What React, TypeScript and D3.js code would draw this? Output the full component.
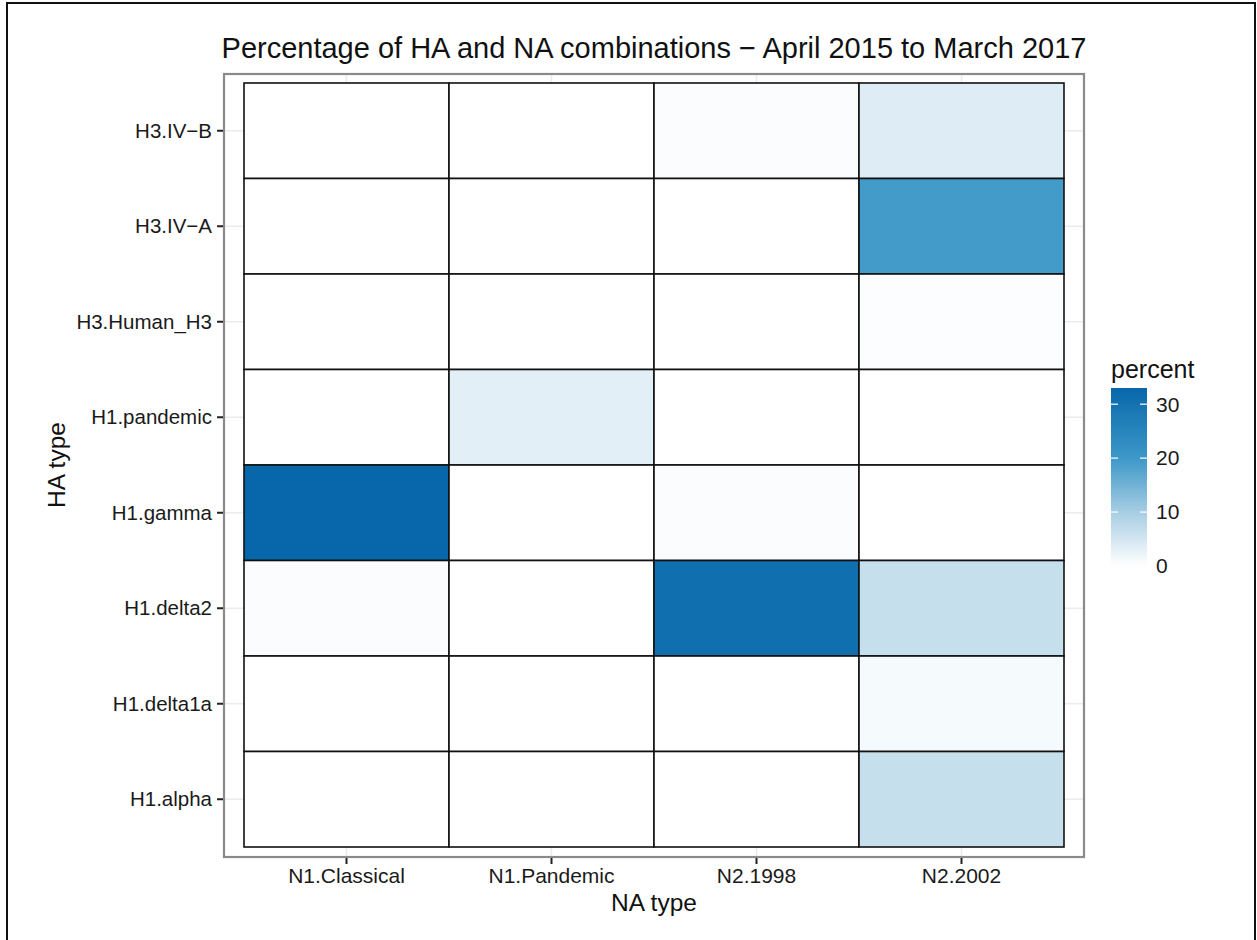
import React from "react";
import * as d3 from "d3";

// HA types, top row first
const haTypes = [
  "H3.IV−B",
  "H3.IV−A",
  "H3.Human_H3",
  "H1.pandemic",
  "H1.gamma",
  "H1.delta2",
  "H1.delta1a",
  "H1.alpha",
];

const naTypes = ["N1.Classical", "N1.Pandemic", "N2.1998", "N2.2002"];

// percent of isolates per HA row, one value per NA column
const h3IVB = [0, 0, 0.6, 3.7];
const h3IVA = [0, 0, 0, 19.5];
const h3Human = [0, 0, 0, 0.4];
const h1Pandemic = [0, 3.3, 0, 0];
const h1Gamma = [33.0, 0, 0.6, 0];
const h1Delta2 = [0.6, 0, 30.8, 6.4];
const h1Delta1a = [0, 0, 0, 1.1];
const h1Alpha = [0, 0, 0, 6.4];

const percentRows = [h3IVB, h3IVA, h3Human, h1Pandemic, h1Gamma, h1Delta2, h1Delta1a, h1Alpha];

const legendTicks = [0, 10, 20, 30];
const legendMax = 33;

const titleText = "Percentage of HA and NA combinations − April 2015 to March 2017";

const FONT = "'Liberation Sans', Arial, Helvetica, sans-serif";

export default function App() {
  const W = 1257;
  const H = 940;

  // tile area and panel (panel is slightly expanded around tiles)
  const tileLeft = 244;
  const tileRight = 1064;
  const tileTop = 83;
  const tileBottom = 847;
  const expand = 20;
  const panel = {
    x0: tileLeft - expand,
    x1: tileRight + expand,
    y0: tileTop - 9,
    y1: tileBottom + 10,
  };

  const x = d3.scaleBand<string>().domain(naTypes).range([tileLeft, tileRight]).padding(0);
  const y = d3.scaleBand<string>().domain(haTypes).range([tileTop, tileBottom]).padding(0);

  const color = d3
    .scaleLinear<string>()
    .domain([0, 10, 20, legendMax])
    .range(["#ffffff", "#a6cde3", "#3d98c8", "#0767aa"])
    .interpolate(d3.interpolateRgb)
    .clamp(true);

  const cells = haTypes.flatMap((ha, i) =>
    naTypes.map((na, j) => ({ ha, na, value: percentRows[i][j] }))
  );

  // colour bar legend
  const barX = 1111;
  const barW = 36;
  const lg = d3.scaleLinear().domain([0, legendMax]).range([566, 388]);
  const gradStops = d3.range(0, 21).map((k) => {
    const v = (legendMax * k) / 20;
    return { offset: `${(k / 20) * 100}%`, color: color(v) };
  });

  const centerX = (panel.x0 + panel.x1) / 2;
  const centerY = (tileTop + tileBottom) / 2;

  return (
    <svg
      width={W}
      height={H}
      style={{ position: "absolute", left: 0, top: 0, background: "#ffffff" }}
      fontFamily={FONT}
    >
      <defs>
        <linearGradient id="percentGrad" x1="0" y1="1" x2="0" y2="0">
          {gradStops.map((s) => (
            <stop key={s.offset} offset={s.offset} stopColor={s.color} />
          ))}
        </linearGradient>
      </defs>
      <rect x={0} y={0} width={W} height={H} fill="#ffffff" />
      {/* outer frame */}
      <rect x={7} y={3} width={1248} height={990} fill="none" stroke="#111" strokeWidth={2} />

      {/* title */}
      <text x={centerX} y={58} textAnchor="middle" fontSize={29} fill="#111">
        {titleText}
      </text>

      {/* panel background and grid */}
      <rect
        x={panel.x0}
        y={panel.y0}
        width={panel.x1 - panel.x0}
        height={panel.y1 - panel.y0}
        fill="#ffffff"
      />
      {haTypes.map((ha) => {
        const cy = (y(ha) as number) + y.bandwidth() / 2;
        return (
          <line key={"gy" + ha} x1={panel.x0} x2={panel.x1} y1={cy} y2={cy} stroke="#ebebeb" strokeWidth={1.5} />
        );
      })}
      {naTypes.map((na) => {
        const cx = (x(na) as number) + x.bandwidth() / 2;
        return (
          <line key={"gx" + na} x1={cx} x2={cx} y1={panel.y0} y2={panel.y1} stroke="#ebebeb" strokeWidth={1.5} />
        );
      })}

      {/* tiles */}
      {cells.map((c) => (
        <rect
          key={c.ha + c.na}
          x={x(c.na) as number}
          y={y(c.ha) as number}
          width={x.bandwidth()}
          height={y.bandwidth()}
          fill={color(c.value)}
          stroke="#111"
          strokeWidth={1.6}
        />
      ))}

      {/* panel border */}
      <rect
        x={panel.x0}
        y={panel.y0}
        width={panel.x1 - panel.x0}
        height={panel.y1 - panel.y0}
        fill="none"
        stroke="#8a8a8a"
        strokeWidth={2.2}
      />

      {/* y axis */}
      {haTypes.map((ha) => {
        const cy = (y(ha) as number) + y.bandwidth() / 2;
        return (
          <g key={"yt" + ha}>
            <line x1={panel.x0 - 7} x2={panel.x0 - 1} y1={cy} y2={cy} stroke="#222" strokeWidth={2} />
            <text x={212} y={cy} dy="0.35em" textAnchor="end" fontSize={20.5} fill="#1a1a1a">
              {ha}
            </text>
          </g>
        );
      })}

      {/* x axis */}
      {naTypes.map((na) => {
        const cx = (x(na) as number) + x.bandwidth() / 2;
        return (
          <g key={"xt" + na}>
            <line x1={cx} x2={cx} y1={panel.y1 + 1} y2={panel.y1 + 7} stroke="#222" strokeWidth={2} />
            <text x={cx} y={883} textAnchor="middle" fontSize={21} fill="#1a1a1a">
              {na}
            </text>
          </g>
        );
      })}

      {/* axis titles */}
      <text x={centerX} y={911} textAnchor="middle" fontSize={24.5} fill="#111">
        NA type
      </text>
      <text
        transform={`translate(65, ${centerY}) rotate(-90)`}
        textAnchor="middle"
        fontSize={24.5}
        fill="#111"
      >
        HA type
      </text>

      {/* legend */}
      <text x={barX} y={378} fontSize={25} fill="#111">
        percent
      </text>
      <rect x={barX} y={lg(legendMax)} width={barW} height={lg(0) - lg(legendMax)} fill="url(#percentGrad)" />
      {legendTicks.map((t) => (
        <g key={"lt" + t}>
          {t > 0 && (
            <>
              <line x1={barX} x2={barX + 7} y1={lg(t)} y2={lg(t)} stroke="#ffffff" strokeWidth={1.2} />
              <line x1={barX + barW - 7} x2={barX + barW} y1={lg(t)} y2={lg(t)} stroke="#ffffff" strokeWidth={1.2} />
            </>
          )}
          <text x={1156} y={lg(t)} dy="0.35em" fontSize={21} fill="#1a1a1a">
            {t}
          </text>
        </g>
      ))}
    </svg>
  );
}
